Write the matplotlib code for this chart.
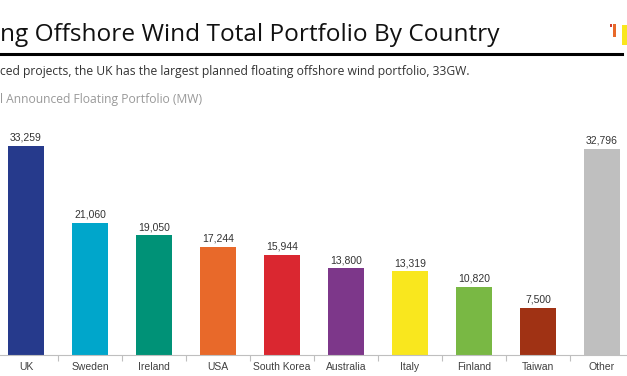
import matplotlib
matplotlib.use("Agg")
import matplotlib.pyplot as plt
from matplotlib.patches import Rectangle
from matplotlib.lines import Line2D

categories = ["UK", "Sweden", "Ireland", "USA", "South Korea", "Australia", "Italy", "Finland", "Taiwan", "Other"]
values = [33259, 21060, 19050, 17244, 15944, 13800, 13319, 10820, 7500, 32796]
colors = ["#263A8C", "#00A6CB", "#009277", "#E8692A", "#DA2730", "#7D378A", "#F9E71E", "#79B844", "#A03214", "#BFBFBF"]

title = "ng Offshore Wind Total Portfolio By Country"
subtitle = "ced projects, the UK has the largest planned floating offshore wind portfolio, 33GW."
ylabel = "l Announced Floating Portfolio (MW)"

W, H = 627, 376
fig = plt.figure(figsize=(W / 100, H / 100), dpi=100)
plt.rcParams['font.family'] = ['Open Sans', 'DejaVu Sans']

# axes geometry in pixels
base_px = 355
top_px = 130
ax = fig.add_axes([0, (H - base_px) / H, 1, (base_px - top_px) / H])
ax.set_xlim(-26 / 64, (W - 26) / 64)
ax.set_ylim(0, 35800)

x = list(range(len(categories)))
ax.bar(x, values, width=0.56, color=colors, zorder=2)
for xi, v in zip(x, values):
    ax.text(xi, v + 500, f"{v:,}", ha="center", va="bottom", fontsize=7.5,
            color="#333333", family=["Liberation Sans", "DejaVu Sans"])

ax.set_yticks([])
ax.set_xticks(x)
ax.set_xticklabels(categories, fontsize=7.5, color="#404040", family=["Liberation Sans", "DejaVu Sans"])
ax.tick_params(axis="x", length=0, pad=5)
ax.set_xticks([i + 0.5 for i in range(len(categories) - 1)], minor=True)
ax.tick_params(axis="x", which="minor", length=4, color="#BFBFBF", width=0.8)
for s in ["top", "right", "left"]:
    ax.spines[s].set_visible(False)
ax.spines["bottom"].set_color("#BFBFBF")
ax.spines["bottom"].set_linewidth(0.8)

# titles
fig.text(0, 1 - 35 / H, title, fontsize=17.6, color="#111111", va="center", ha="left")
fig.add_artist(Line2D([0, 622 / W], [1 - 54 / H, 1 - 54 / H], color="black", lw=2.2))
fig.text(0, 1 - 72 / H, subtitle, fontsize=8.7, color="#333333", va="center", ha="left")
fig.text(0, 1 - 100 / H, ylabel, fontsize=8.7, color="#999999", va="center", ha="left")

# logo
def rect(x0, y0, x1, y1, c):
    fig.add_artist(Rectangle((x0 / W, 1 - y1 / H), (x1 - x0) / W, (y1 - y0) / H,
                             color=c, transform=fig.transFigure, lw=0))
rect(610, 24, 612, 27, "#D23B2B")
rect(613, 24, 616, 37, "#E8692A")
rect(622, 25, 627, 45, "#F9E71E")

fig.savefig("out.png", dpi=100)
